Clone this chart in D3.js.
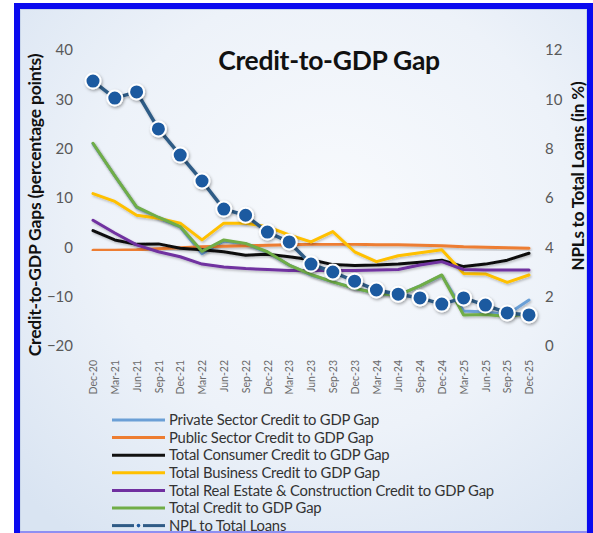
<!DOCTYPE html>
<html>
<head>
<meta charset="utf-8">
<script src="https://cdn.jsdelivr.net/npm/d3@7"></script>
<style>
  html, body { margin: 0; padding: 0; background: #ffffff; }
  svg { display: block; }
  text { font-family: Lato, "Open Sans", "DejaVu Sans", sans-serif; }
</style>
</head>
<body>
<svg id="chart" width="593" height="533"></svg>
<script>
// Quarterly periods on the category axis
const categories = ["Dec-20","Mar-21","Jun-21","Sep-21","Dec-21","Mar-22","Jun-22","Sep-22","Dec-22",
  "Mar-23","Jun-23","Sep-23","Dec-23","Mar-24","Jun-24","Sep-24","Dec-24","Mar-25","Jun-25","Sep-25","Dec-25"];

// Credit-to-GDP gaps, percentage points (left axis)
const privateSector   = [21.0, 14.5, 8.1, 6.0, 4.1, -1.3, 1.3, 0.7, -1.0, -3.6, -5.6, -7.0, -8.3, -9.3, -9.7, -7.8, -5.7, -12.9, -13.1, -13.6, -10.7];
const publicSector    = [-0.6, -0.6, -0.5, -0.3, -0.1, 0.1, 0.2, 0.3, 0.4, 0.5, 0.6, 0.6, 0.6, 0.5, 0.5, 0.4, 0.3, 0.1, 0.0, -0.1, -0.2];
const consumerCredit  = [3.4, 1.5, 0.6, 0.7, -0.2, -0.5, -0.9, -1.6, -1.4, -1.9, -2.5, -3.5, -3.7, -3.6, -3.4, -3.0, -2.6, -3.9, -3.4, -2.6, -1.2];
const businessCredit  = [10.9, 9.3, 6.5, 5.9, 4.9, 1.5, 4.9, 4.9, 4.2, 2.5, 1.1, 3.2, -0.9, -2.9, -1.7, -1.1, -0.5, -5.3, -5.4, -7.1, -5.6];
const realEstate      = [5.5, 2.9, 0.5, -0.9, -1.9, -3.4, -4.0, -4.3, -4.5, -4.7, -4.7, -4.7, -4.7, -4.6, -4.5, -3.6, -2.9, -4.5, -4.6, -4.6, -4.6];
const totalCredit     = [21.1, 14.5, 8.2, 6.1, 4.2, -0.8, 1.5, 0.8, -0.9, -3.6, -5.5, -7.0, -8.3, -9.3, -9.7, -7.8, -5.6, -13.7, -13.6, -14.0, -13.4];

// Non-performing loans to total loans, % (right axis)
const nplRatio = [10.74, 10.05, 10.3, 8.8, 7.74, 6.69, 5.55, 5.3, 4.62, 4.22, 3.32, 3.0, 2.63, 2.27, 2.1, 1.95, 1.7, 1.95, 1.66, 1.34, 1.26];

// Axis ticks
const leftTicks  = [-20, -10, 0, 10, 20, 30, 40];
const rightTicks = [0, 2, 4, 6, 8, 10, 12];

const seriesNames = [
  "Private Sector Credit to GDP Gap",
  "Public Sector Credit to GDP Gap",
  "Total Consumer Credit to GDP Gap",
  "Total Business Credit to GDP Gap",
  "Total Real Estate & Construction Credit to GDP Gap",
  "Total Credit to GDP Gap",
  "NPL to Total Loans"
];
const seriesColors = ["#6b9fd6", "#ed7d31", "#111111", "#ffc000", "#7030a0", "#70ad47", "#2f5b86"];
const gapSeries = [privateSector, publicSector, consumerCredit, businessCredit, realEstate, totalCredit];

const svg = d3.select("#chart");

// ---- defs: background gradient and soft shadows
const defs = svg.append("defs");
const bg = defs.append("radialGradient").attr("id", "bgGrad")
  .attr("cx", "55%").attr("cy", "38%").attr("r", "75%");
bg.append("stop").attr("offset", "0%").attr("stop-color", "#f8fafd");
bg.append("stop").attr("offset", "55%").attr("stop-color", "#edf2f9");
bg.append("stop").attr("offset", "100%").attr("stop-color", "#d9e4f2");

const sh = defs.append("filter").attr("id", "lineShadow")
  .attr("x", "-10%").attr("y", "-10%").attr("width", "120%").attr("height", "120%");
sh.append("feDropShadow").attr("dx", 1).attr("dy", 1.5).attr("stdDeviation", 1.2)
  .attr("flood-color", "#000").attr("flood-opacity", 0.25);

const mk = defs.append("filter").attr("id", "markerShadow")
  .attr("x", "-50%").attr("y", "-50%").attr("width", "200%").attr("height", "200%");
mk.append("feDropShadow").attr("dx", 1).attr("dy", 1.5).attr("stdDeviation", 1.4)
  .attr("flood-color", "#000").attr("flood-opacity", 0.35);

// ---- frame
svg.append("rect").attr("x", 17).attr("y", 6).attr("width", 573).attr("height", 540)
  .attr("fill", "url(#bgGrad)").attr("stroke", "#0a0aef").attr("stroke-width", 6);
svg.append("rect").attr("x", 20.5).attr("y", 9.5).attr("width", 566).attr("height", 530)
  .attr("fill", "none").attr("stroke", "#c9d6ea").attr("stroke-width", 1);
svg.append("line").attr("x1", 20).attr("x2", 587).attr("y1", 532).attr("y2", 532)
  .attr("stroke", "#8f8ff2").attr("stroke-width", 2);

// ---- scales
const x = d3.scalePoint().domain(categories).range([93, 529]);
const yL = d3.scaleLinear().domain([-20, 40]).range([346, 50]);
const yR = d3.scaleLinear().domain([0, 12]).range([346, 50]);

// ---- title
svg.append("text").attr("x", 329).attr("y", 70).attr("text-anchor", "middle")
  .attr("font-size", 26.5).attr("font-weight", 700).attr("fill", "#111")
  .attr("letter-spacing", "-0.3")
  .text("Credit-to-GDP Gap");

// ---- axes
const tickColor = "#595959";
const gL = svg.append("g").attr("transform", "translate(73,0)")
  .call(d3.axisLeft(yL).tickValues(leftTicks).tickSize(0).tickPadding(0).tickFormat(d3.format("d")));
gL.select(".domain").remove();
gL.selectAll("text").attr("font-size", 15).attr("fill", tickColor)
  .style("font-family", "Lato, 'Open Sans', sans-serif");

const gR = svg.append("g").attr("transform", "translate(545,0)")
  .call(d3.axisRight(yR).tickValues(rightTicks).tickSize(0).tickPadding(0).tickFormat(d3.format("d")));
gR.select(".domain").remove();
gR.selectAll("text").attr("font-size", 15).attr("fill", tickColor)
  .style("font-family", "Lato, 'Open Sans', sans-serif");

const gX = svg.append("g").attr("transform", "translate(0,360)")
  .call(d3.axisBottom(x).tickSize(0).tickPadding(0));
gX.select(".domain").remove();
gX.selectAll("text")
  .attr("transform", "rotate(-90)")
  .attr("x", 0).attr("y", 0).attr("dy", "0.35em")
  .attr("text-anchor", "end")
  .attr("font-size", 10.5).attr("fill", "#6a6a6a")
  .style("font-family", "Lato, 'Open Sans', sans-serif");

// axis titles
svg.append("text").attr("transform", "translate(41,205) rotate(-90)")
  .attr("text-anchor", "middle").attr("font-size", 17.5).attr("font-weight", 700).attr("fill", "#111")
  .attr("letter-spacing", "-0.2")
  .text("Credit-to-GDP Gaps (percentage points)");
svg.append("text").attr("transform", "translate(584,176) rotate(-90)")
  .attr("text-anchor", "middle").attr("font-size", 17).attr("font-weight", 700).attr("fill", "#111")
  .attr("letter-spacing", "-0.2")
  .text("NPLs to Total Loans (in %)");

// ---- gap lines (left axis)
const lineL = d3.line().x((d, i) => x(categories[i])).y(d => yL(d));
const plot = svg.append("g");
gapSeries.forEach((s, k) => {
  plot.append("path").datum(s)
    .attr("d", lineL)
    .attr("fill", "none")
    .attr("stroke", seriesColors[k])
    .attr("stroke-width", 3)
    .attr("stroke-linejoin", "round")
    .attr("stroke-linecap", "round")
    .attr("filter", "url(#lineShadow)");
});

// ---- NPL line with markers (right axis)
const lineR = d3.line().x((d, i) => x(categories[i])).y(d => yR(d));
plot.append("path").datum(nplRatio)
  .attr("d", lineR).attr("fill", "none")
  .attr("stroke", seriesColors[6]).attr("stroke-width", 3.5)
  .attr("stroke-linejoin", "round")
  .attr("filter", "url(#lineShadow)");
plot.selectAll("circle.npl").data(nplRatio).join("circle")
  .attr("class", "npl")
  .attr("cx", (d, i) => x(categories[i]))
  .attr("cy", d => yR(d))
  .attr("r", 7.5)
  .attr("fill", "#1d5aa0")
  .attr("stroke", "#ffffff").attr("stroke-width", 2)
  .attr("filter", "url(#markerShadow)");

// ---- legend
const legend = svg.append("g");
seriesNames.forEach((name, k) => {
  const yy = 420 + k * 17.6;
  const row = legend.append("g");
  if (k === 6) {
    row.append("line").attr("x1", 112).attr("x2", 134).attr("y1", yy).attr("y2", yy)
      .attr("stroke", seriesColors[k]).attr("stroke-width", 3);
    row.append("line").attr("x1", 143).attr("x2", 165).attr("y1", yy).attr("y2", yy)
      .attr("stroke", seriesColors[k]).attr("stroke-width", 3);
    row.append("circle").attr("cx", 138.5).attr("cy", yy).attr("r", 1.8).attr("fill", "#1d5aa0");
  } else {
    row.append("line").attr("x1", 112).attr("x2", 165).attr("y1", yy).attr("y2", yy)
      .attr("stroke", seriesColors[k]).attr("stroke-width", 3);
  }
  row.append("text").attr("x", 169).attr("y", yy).attr("dy", "0.35em")
    .attr("font-size", 14.8).attr("fill", "#333")
    .attr("letter-spacing", "-0.2")
    .text(name);
});
</script>
</body>
</html>
